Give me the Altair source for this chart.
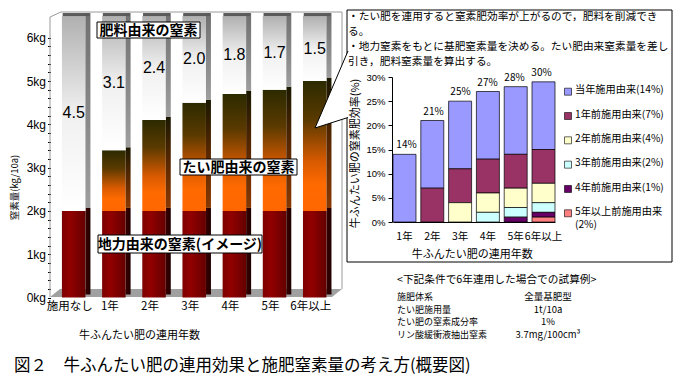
import altair as alt
import pandas as pd

W, H = 668, 372


def X(px):
    return px - 8


def Y(py):
    return py - 8


JP = "Noto Sans CJK JP"
LAT = "Liberation Sans"

# ---------------- left chart data ----------------
cats_left = ["施用なし", "1年", "2年", "3年", "4年", "5年", "6年以上"]
soil_n = [2, 2, 2, 2, 2, 2, 2]
manure_n = [0, 1.4, 2.1, 2.5, 2.7, 2.8, 3.0]
fert_n = [4.5, 3.1, 2.4, 2.0, 1.8, 1.7, 1.5]
kg_ticks = [round(0.2 * i, 1) for i in range(31)]

# ---------------- right chart data ----------------
years = ["1年", "2年", "3年", "4年", "5年", "6年以上"]
series = ["当年施用由来", "1年前施用由来", "2年前施用由来", "3年前施用由来",
          "4年前施用由来", "5年以上前施用由来"]
legend_labels = ["当年施用由来(14%)", "1年前施用由来(7%)", "2年前施用由来(4%)",
                 "3年前施用由来(2%)", "4年前施用由来(1%)", "5年以上前施用由来\n(2%)"]
series_colors = ["#9999FF", "#993366", "#FFFFCC", "#CCFFFF", "#660066", "#FF8080"]
eff_current = [14, 14, 14, 14, 14, 14]
eff_1y = [0, 7, 7, 7, 7, 7]
eff_2y = [0, 0, 4, 4, 4, 4]
eff_3y = [0, 0, 0, 2, 2, 2]
eff_4y = [0, 0, 0, 0, 1, 1]
eff_5y = [0, 0, 0, 0, 0, 1]
eff_labels = ["14%", "21%", "25%", "27%", "28%", "30%"]
pct_ticks = [0, 5, 10, 15, 20, 25, 30]

notes = ("・たい肥を連用すると窒素肥効率が上がるので，肥料を削減でき\nる。\n"
         "・地力窒素をもとに基肥窒素量を決める。たい肥由来窒素量を差し\n引き，肥料窒素量を算出する。")
cond_title = "<下記条件で6年連用した場合での試算例>"
cond_items = ["施肥体系", "たい肥施用量", "たい肥の窒素成分率", "リン酸緩衝液抽出窒素"]
cond_values = ["全量基肥型", "1t/10a", "1%", "3.7mg/100cm³"]
caption = "図２　牛ふんたい肥の連用効果と施肥窒素量の考え方(概要図)"

# ---------------- tables ----------------
soil_rows, man_rows, fert_rows = [], [], []
for i, c in enumerate(cats_left):
    a = soil_n[i]
    b = a + manure_n[i]
    t = b + fert_n[i]
    soil_rows.append(dict(cat=c, lo=0, hi=a))
    if manure_n[i] > 0:
        man_rows.append(dict(cat=c, lo=a, hi=b))
    fert_rows.append(dict(cat=c, lo=b, hi=t, mid=(b + t) / 2, lab=f"{fert_n[i]:.1f}"))
soil_df = pd.DataFrame(soil_rows)
man_df = pd.DataFrame(man_rows)
fert_df = pd.DataFrame(fert_rows)

series_vals = [eff_current, eff_1y, eff_2y, eff_3y, eff_4y, eff_5y]
rrows = []
for si, s in enumerate(series):
    for yi, yr in enumerate(years):
        v = series_vals[si][yi]
        if v > 0:
            rrows.append(dict(year=yr, series=s, v=v, ord=len(series) - 1 - si))
rdf = pd.DataFrame(rrows)
tot_df = pd.DataFrame(dict(year=years,
                           total=[sum(sv[i] for sv in series_vals) for i in range(len(years))],
                           lab=eff_labels))
leg_df = pd.DataFrame(dict(series=series, lab=legend_labels))
cond_df = pd.DataFrame(dict(item=cond_items, val=cond_values))
dummy = pd.DataFrame({"k": [0]})

# ---------------- scales ----------------
lx = alt.Scale(domain=cats_left, range=[X(53.6), X(334.8)], paddingInner=0.415, paddingOuter=0.2075)
ly = alt.Scale(domain=[0, 6], range=[Y(297.5), Y(297.5 - 6 * 43.3)], nice=False, zero=False)
rx = alt.Scale(domain=years, range=[X(393), X(555)], paddingInner=0.173, paddingOuter=0)
ry = alt.Scale(domain=[0, 30], range=[Y(222), Y(77)], nice=False, zero=True)
rcol = alt.Scale(domain=series, range=series_colors)


def grad(stops, x1=0, y1=0, x2=0, y2=1):
    return alt.LinearGradient(gradient="linear",
                              stops=[alt.GradientStop(offset=o, color=c) for o, c in stops],
                              x1=x1, y1=y1, x2=x2, y2=y2)


soil_front = grad([(0, "#7E0000"), (0.35, "#920000"), (1, "#640000")], x1=0, y1=0, x2=1, y2=0)
soil_side = grad([(0, "#3A0000"), (1, "#200000")], x1=0, y1=0, x2=1, y2=0)
man_front = grad([(0, "#2C2A00"), (0.3, "#5A3A00"), (0.62, "#D85A00"), (0.8, "#FF6A00"), (1, "#FF6600")])
man_side = grad([(0, "#1A1800"), (0.5, "#5A2800"), (1, "#8A3800")])
fert_front = grad([(0, "#B0B0B0"), (0.5, "#F0F0F0"), (1, "#FFFFFF")])
fert_side = grad([(0, "#707070"), (1, "#9E9E9E")])

layers = []

# floor and back frame of the 3-D chart
layers.append(alt.Chart(dummy).mark_point(
    shape="M0,0L10,-8L292,-8L282,0Z", size=4, filled=True, fill="#A0A0A0",
    strokeWidth=0, opacity=1).encode(x=alt.value(X(50)), y=alt.value(Y(297))))
layers.append(alt.Chart(dummy).mark_point(
    shape="M0,0L0,-280L11,-285L292,-285L292,-8", size=4, filled=False,
    stroke="#9A9A9A", strokeWidth=1, opacity=1).encode(x=alt.value(X(50)), y=alt.value(Y(297))))

left_x_axis = alt.Axis(orient="bottom", offset=Y(297.5) - H, domain=False, ticks=False,
                       labelPadding=3, labelOffset=-4, labelAngle=0, labelFont=JP,
                       labelFontSize=11.5, labelColor="black",
                       title="牛ふんたい肥の連用年数", titleFont=JP, titleFontSize=11,
                       titleFontWeight="normal", titleColor="black",
                       titleX=X(139), titleY=335 - 297.5, titleAlign="center", titleBaseline="middle")
left_y_axis = alt.Axis(orient="left", offset=-X(50.5), values=kg_ticks,
                       labelExpr="datum.value % 1 === 0 ? datum.value + 'kg' : ''",
                       domain=False, tickSize=3, tickColor="black", grid=False,
                       labelFont=LAT, labelFontSize=12, labelPadding=2, labelColor="black",
                       title="窒素量(kg/10a)", titleFont=JP, titleFontSize=9.5,
                       titleFontWeight="normal", titleColor="black",
                       titleX=X(14) - X(50.5), titleY=Y(187), titleAngle=-90,
                       titleAlign="center", titleBaseline="middle")


def seg(df, front, side, with_axes=False):
    xa = left_x_axis if with_axes else None
    ya = left_y_axis if with_axes else None
    f = alt.Chart(df).mark_bar(fill=front, strokeWidth=0).encode(
        x=alt.X("cat:N", scale=lx, axis=xa),
        y=alt.Y("lo:Q", scale=ly, axis=ya),
        y2="hi:Q")
    s = alt.Chart(df).mark_bar(fill=side, strokeWidth=0, width=5, xOffset=14.25,
                               yOffset=-3, y2Offset=-3).encode(
        x=alt.X("cat:N", scale=lx, axis=None),
        y=alt.Y("lo:Q", scale=ly, axis=None),
        y2="hi:Q")
    return [f, s]


layers += seg(soil_df, soil_front, soil_side, with_axes=True)
layers += seg(man_df, man_front, man_side)
layers += seg(fert_df, fert_front, fert_side)

# top faces
layers.append(alt.Chart(fert_df).mark_tick(thickness=3, size=27, xOffset=2.5, yOffset=-1.5,
                                           color="#5A5A5A", opacity=1).encode(
    x=alt.X("cat:N", scale=lx, axis=None), y=alt.Y("hi:Q", scale=ly, axis=None)))

# fertilizer value labels
layers.append(alt.Chart(fert_df).mark_text(font=LAT, fontSize=16, color="black").encode(
    x=alt.X("cat:N", scale=lx, axis=None), y=alt.Y("mid:Q", scale=ly, axis=None),
    text="lab:N"))

# segment name boxes
for txt, x0, x1, y0, y1 in [("肥料由来の窒素", 97, 200, 22, 38),
                            ("たい肥由来の窒素", 180, 297, 159, 175),
                            ("地力由来の窒素(イメージ)", 98, 262, 235, 253)]:
    layers.append(alt.Chart(dummy).mark_rect(fill="white", stroke="black", strokeWidth=1).encode(
        x=alt.value(X(x0)), x2=alt.value(X(x1)), y=alt.value(Y(y0)), y2=alt.value(Y(y1))))
    layers.append(alt.Chart(dummy).mark_text(text=txt, font=JP, fontSize=14, fontWeight="bold",
                                             color="black").encode(
        x=alt.value(X((x0 + x1) / 2)), y=alt.value(Y((y0 + y1) / 2 + 0.5))))

# right box
layers.append(alt.Chart(dummy).mark_rect(fill="white", stroke="black", strokeWidth=1).encode(
    x=alt.value(X(347)), x2=alt.value(X(672)), y=alt.value(Y(10)), y2=alt.value(Y(262))))
# callout wedge
layers.append(alt.Chart(dummy).mark_point(
    shape="M33,-77L0,0L33,-10.5", size=4, filled=True, fill="white", stroke="black",
    strokeWidth=1, opacity=1).encode(x=alt.value(X(315)), y=alt.value(Y(128))))

# notes
layers.append(alt.Chart(dummy).mark_text(text=notes, font=JP, fontSize=10.7, align="left",
                                         baseline="top", lineBreak="\n", lineHeight=15,
                                         color="black").encode(
    x=alt.value(X(348)), y=alt.value(Y(11.5))))

# right stacked bars
layers.append(alt.Chart(rdf).mark_bar(stroke="black", strokeWidth=0.7).encode(
    x=alt.X("year:N", scale=rx, axis=alt.Axis(
        orient="bottom", offset=Y(222) - H, domain=True, domainColor="black", ticks=False,
        labelPadding=9, labelAngle=0, labelFont=JP, labelFontSize=10.5, labelColor="black",
        title="牛ふんたい肥の連用年数", titleFont=JP, titleFontSize=11, titleFontWeight="normal",
        titleColor="black", titleX=X(471.7), titleY=254 - 222, titleAlign="center",
        titleBaseline="middle", zindex=2)),
    y=alt.Y("v:Q", stack="zero", scale=ry, axis=alt.Axis(
        orient="left", offset=-X(392), values=pct_ticks, labelExpr="datum.value + '%'",
        domainColor="black", tickColor="black", tickSize=4, grid=False, labelFont=LAT,
        labelFontSize=9.5, labelPadding=3, labelColor="black",
        title="牛ふんたい肥の窒素肥効率(%)", titleFont=JP, titleFontSize=11,
        titleFontWeight="normal", titleColor="black", titleX=X(355) - X(392), titleY=Y(153),
        titleAngle=-90, titleAlign="center", titleBaseline="middle", zindex=2)),
    color=alt.Color("series:N", scale=rcol, legend=None),
    order=alt.Order("ord:Q", sort="ascending")))

layers.append(alt.Chart(tot_df).mark_text(font=JP, fontSize=10, dy=-9, color="black").encode(
    x=alt.X("year:N", scale=rx, axis=None), y=alt.Y("total:Q", scale=ry, axis=None),
    text="lab:N"))

# legend
leg_y = alt.Scale(type="point", domain=series, range=[Y(91.7), Y(213.3)], padding=0)
layers.append(alt.Chart(leg_df).mark_square(size=49, stroke="black", strokeWidth=0.6,
                                            opacity=1).encode(
    x=alt.value(X(568)), y=alt.Y("series:N", scale=leg_y, axis=None),
    color=alt.Color("series:N", scale=rcol, legend=None)))
layers.append(alt.Chart(leg_df).mark_text(font=JP, fontSize=10.2, align="left", baseline="top",
                                          dy=-6.3, lineBreak="\n", lineHeight=12.8,
                                          color="black").encode(
    x=alt.value(X(575)), y=alt.Y("series:N", scale=leg_y, axis=None), text="lab:N"))

# conditions block
layers.append(alt.Chart(dummy).mark_text(text=cond_title, font=JP, fontSize=10.7, align="left",
                                         color="black").encode(
    x=alt.value(X(397)), y=alt.value(Y(280))))
cond_y = alt.Scale(type="point", domain=cond_items, range=[Y(297), Y(335)], padding=0)
layers.append(alt.Chart(cond_df).mark_text(font=JP, fontSize=9, align="left", color="black").encode(
    x=alt.value(X(397)), y=alt.Y("item:N", scale=cond_y, axis=None), text="item:N"))
layers.append(alt.Chart(cond_df).mark_text(font=JP, fontSize=9.5, align="center", color="black").encode(
    x=alt.value(X(548)), y=alt.Y("item:N", scale=cond_y, axis=None), text="val:N"))

# caption
layers.append(alt.Chart(dummy).mark_text(text=caption, font=JP, fontSize=16.5, align="left",
                                         color="black").encode(
    x=alt.value(X(14)), y=alt.value(Y(366))))

chart = alt.layer(*layers).resolve_scale(
    x="independent", y="independent", color="independent"
).properties(
    width=W, height=H, autosize=alt.AutoSizeParams(type="none"), padding=0
).configure_view(stroke=None)

chart.save("out.html", embed_options={"renderer": "svg", "actions": False})
